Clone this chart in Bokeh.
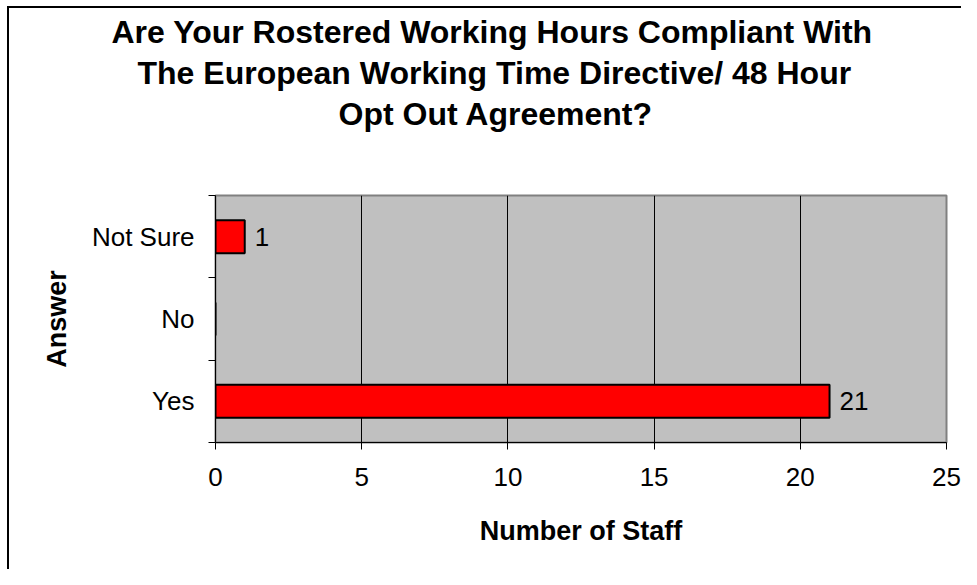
from bokeh.plotting import figure
from bokeh.models import ColumnDataSource, FixedTicker, Title, LabelSet
from bokeh.core.properties import value
from bokeh.embed import file_html
from bokeh.resources import INLINE

categories = ["Yes", "No", "Not Sure"]
counts = [21, 0, 1]
x_ticks = [0, 5, 10, 15, 20, 25]
title_lines = [
    "Are Your Rostered Working Hours Compliant With",
    "The European Working Time Directive/ 48 Hour",
    "Opt Out Agreement?",
]
x_label = "Number of Staff"
y_label = "Answer"

FONT = "Liberation Sans"

pos = [i + 0.5 for i in range(len(categories))]
bounds = [float(i) for i in range(len(categories) + 1)]
src = ColumnDataSource(dict(y=pos, right=counts, cat=categories))
lab_src = ColumnDataSource(dict(
    y=[pp for pp, c in zip(pos, counts) if c > 0],
    x=[c for c in counts if c > 0],
    text=[str(c) for c in counts if c > 0],
))

p = figure(width=961, height=569, output_backend="svg", toolbar_location=None,
           x_range=(x_ticks[0], x_ticks[-1]), y_range=(bounds[0], bounds[-1]),
           min_border_left=215, min_border_right=15, min_border_top=195, min_border_bottom=127)
p.title.visible = False
# chart-area frame line (left and top edges) drawn as the element background
p.styles = {
    "background": "linear-gradient(#000, #000) 7px 6px / 2px 100% no-repeat, "
                  "linear-gradient(#000, #000) 7px 6px / 100% 2px no-repeat, #ffffff",
}

p.background_fill_color = "#c0c0c0"
p.border_fill_color = None
p.outline_line_color = "#808080"
p.outline_line_width = 2

p.hbar(y="y", left=0, right="right", height=0.4, fill_color="#ff0000",
       line_color="black", line_width=2, source=src)

p.add_layout(LabelSet(x="x", y="y", text="text", source=lab_src, x_offset=10,
                      text_baseline="middle", text_font=value(FONT), text_font_size=value("26px"),
                      text_color="black"))

# x axis
xa = p.xaxis[0]
xa.ticker = FixedTicker(ticks=x_ticks)
xa.major_tick_out = 7
xa.major_tick_in = 0
xa.minor_tick_line_color = None
xa.axis_line_color = "black"
xa.major_tick_line_color = "black"
xa.major_label_text_font = FONT
xa.major_label_text_font_size = "26px"
xa.major_label_text_color = "black"
xa.major_label_standoff = 18
xa.axis_label = x_label
xa.axis_label_text_font = FONT
xa.axis_label_text_font_size = "27px"
xa.axis_label_text_font_style = "bold"
xa.axis_label_text_color = "black"
xa.axis_label_standoff = 27

# y axis
ya = p.yaxis[0]
ya.ticker = FixedTicker(ticks=pos, minor_ticks=bounds)
ya.major_label_overrides = {pp: c for pp, c in zip(pos, categories)}
ya.major_tick_line_color = None
ya.major_tick_out = 0
ya.major_tick_in = 0
ya.minor_tick_out = 7
ya.minor_tick_in = 0
ya.minor_tick_line_color = "black"
ya.axis_line_color = "black"
ya.major_label_text_font = FONT
ya.major_label_text_font_size = "26px"
ya.major_label_text_color = "black"
ya.major_label_standoff = 14
ya.axis_label = y_label
ya.axis_label_text_font = FONT
ya.axis_label_text_font_size = "27px"
ya.axis_label_text_font_style = "bold"
ya.axis_label_text_color = "black"
ya.axis_label_standoff = 17

p.xgrid.ticker = FixedTicker(ticks=x_ticks)
p.xgrid.grid_line_color = "black"
p.xgrid.grid_line_width = 1
p.ygrid.grid_line_color = None

# spacer between plot area and title block
p.add_layout(Title(text=" ", standoff=49, text_font=FONT, text_font_size="10px"), "above")

# title lines, added from the one nearest the plot outward
title_offsets = [-104, -78, 123]
for line, off in reversed(list(zip(title_lines, title_offsets))):
    p.add_layout(Title(text=line, align="left", offset=off, standoff=3,
                       text_font=FONT, text_font_size="32px", text_font_style="bold",
                       text_color="black"), "above")

open("out.html", "w").write(file_html(p, INLINE))
